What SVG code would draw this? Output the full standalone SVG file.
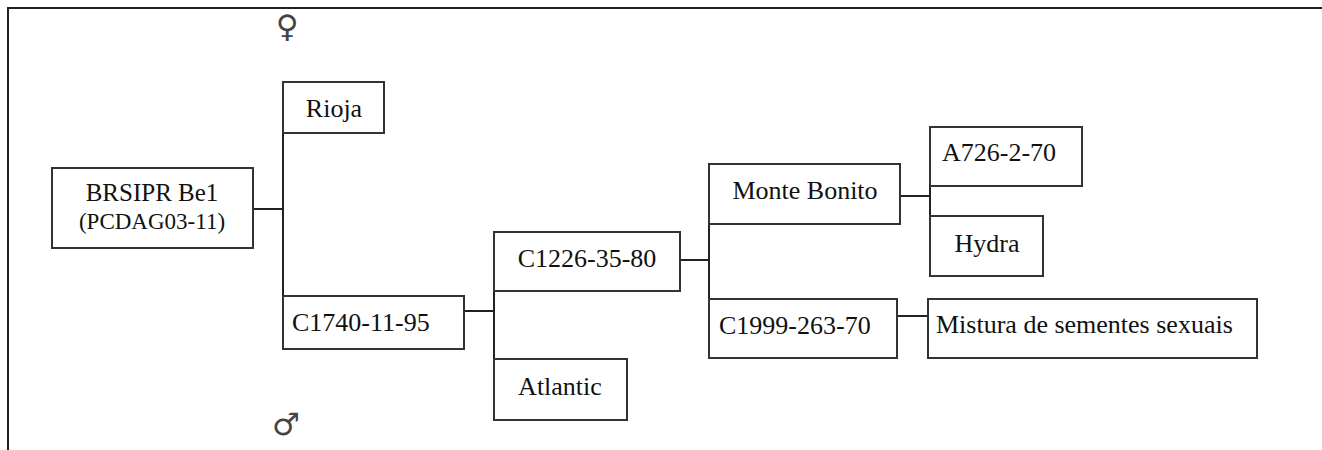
<svg xmlns="http://www.w3.org/2000/svg" width="1322" height="450" viewBox="0 0 1322 450">
<style>
.box{fill:#fff;stroke:#333;stroke-width:2}
.t{font-family:'Liberation Serif','DejaVu Serif',serif;font-size:26px;fill:#111}
.c{text-anchor:middle}
.ln{stroke:#222;stroke-width:2;fill:none}
.sym{font-family:'DejaVu Sans',sans-serif;font-size:31px;fill:#444;text-anchor:middle}
</style>
<rect width="1322" height="450" fill="#fff"/>
<g id="frame">
<path class="ln" d="M8,450 V8 H1322" stroke-width="2.5"/>
</g>
<g id="connectors">
<path class="ln" d="M253,209 H283 M283,133 V296"/>
<path class="ln" d="M464,311 H494 M494,258 V377"/>
<path class="ln" d="M680,260 H709 M709,220 V323"/>
<path class="ln" d="M900,196 H930 M930,167 V217"/>
<path class="ln" d="M897,316 H928"/>
</g>
<g id="female"><text class="sym" x="287" y="37">♀</text></g>
<g id="male"><text class="sym" x="286" y="435">♂</text></g>
<g id="n-brsipr">
<rect class="box" x="52" y="168" width="201" height="80"/>
<text class="t c" x="152" y="201" style="font-size:25px">BRSIPR Be1</text>
<text class="t c" x="152" y="229" style="font-size:23px">(PCDAG03-11)</text>
</g>
<g id="n-rioja">
<rect class="box" x="283" y="82" width="101" height="51"/>
<text class="t c" x="334" y="117">Rioja</text>
</g>
<g id="n-c1740">
<rect class="box" x="283" y="296" width="181" height="53"/>
<text class="t" x="292" y="331">C1740-11-95</text>
</g>
<g id="n-c1226">
<rect class="box" x="494" y="232" width="186" height="59"/>
<text class="t c" x="587" y="267">C1226-35-80</text>
</g>
<g id="n-atlantic">
<rect class="box" x="494" y="359" width="133" height="61"/>
<text class="t c" x="560" y="395">Atlantic</text>
</g>
<g id="n-montebonito">
<rect class="box" x="709" y="164" width="191" height="60"/>
<text class="t c" x="805" y="199">Monte Bonito</text>
</g>
<g id="n-c1999">
<rect class="box" x="709" y="299" width="188" height="59"/>
<text class="t" x="719" y="334">C1999-263-70</text>
</g>
<g id="n-a726">
<rect class="box" x="930" y="127" width="152" height="59"/>
<text class="t" x="942" y="161">A726-2-70</text>
</g>
<g id="n-hydra">
<rect class="box" x="930" y="216" width="113" height="60"/>
<text class="t c" x="987" y="252">Hydra</text>
</g>
<g id="n-mistura">
<rect class="box" x="928" y="299" width="329" height="59"/>
<text class="t" x="936" y="333">Mistura de sementes sexuais</text>
</g>
</svg>
